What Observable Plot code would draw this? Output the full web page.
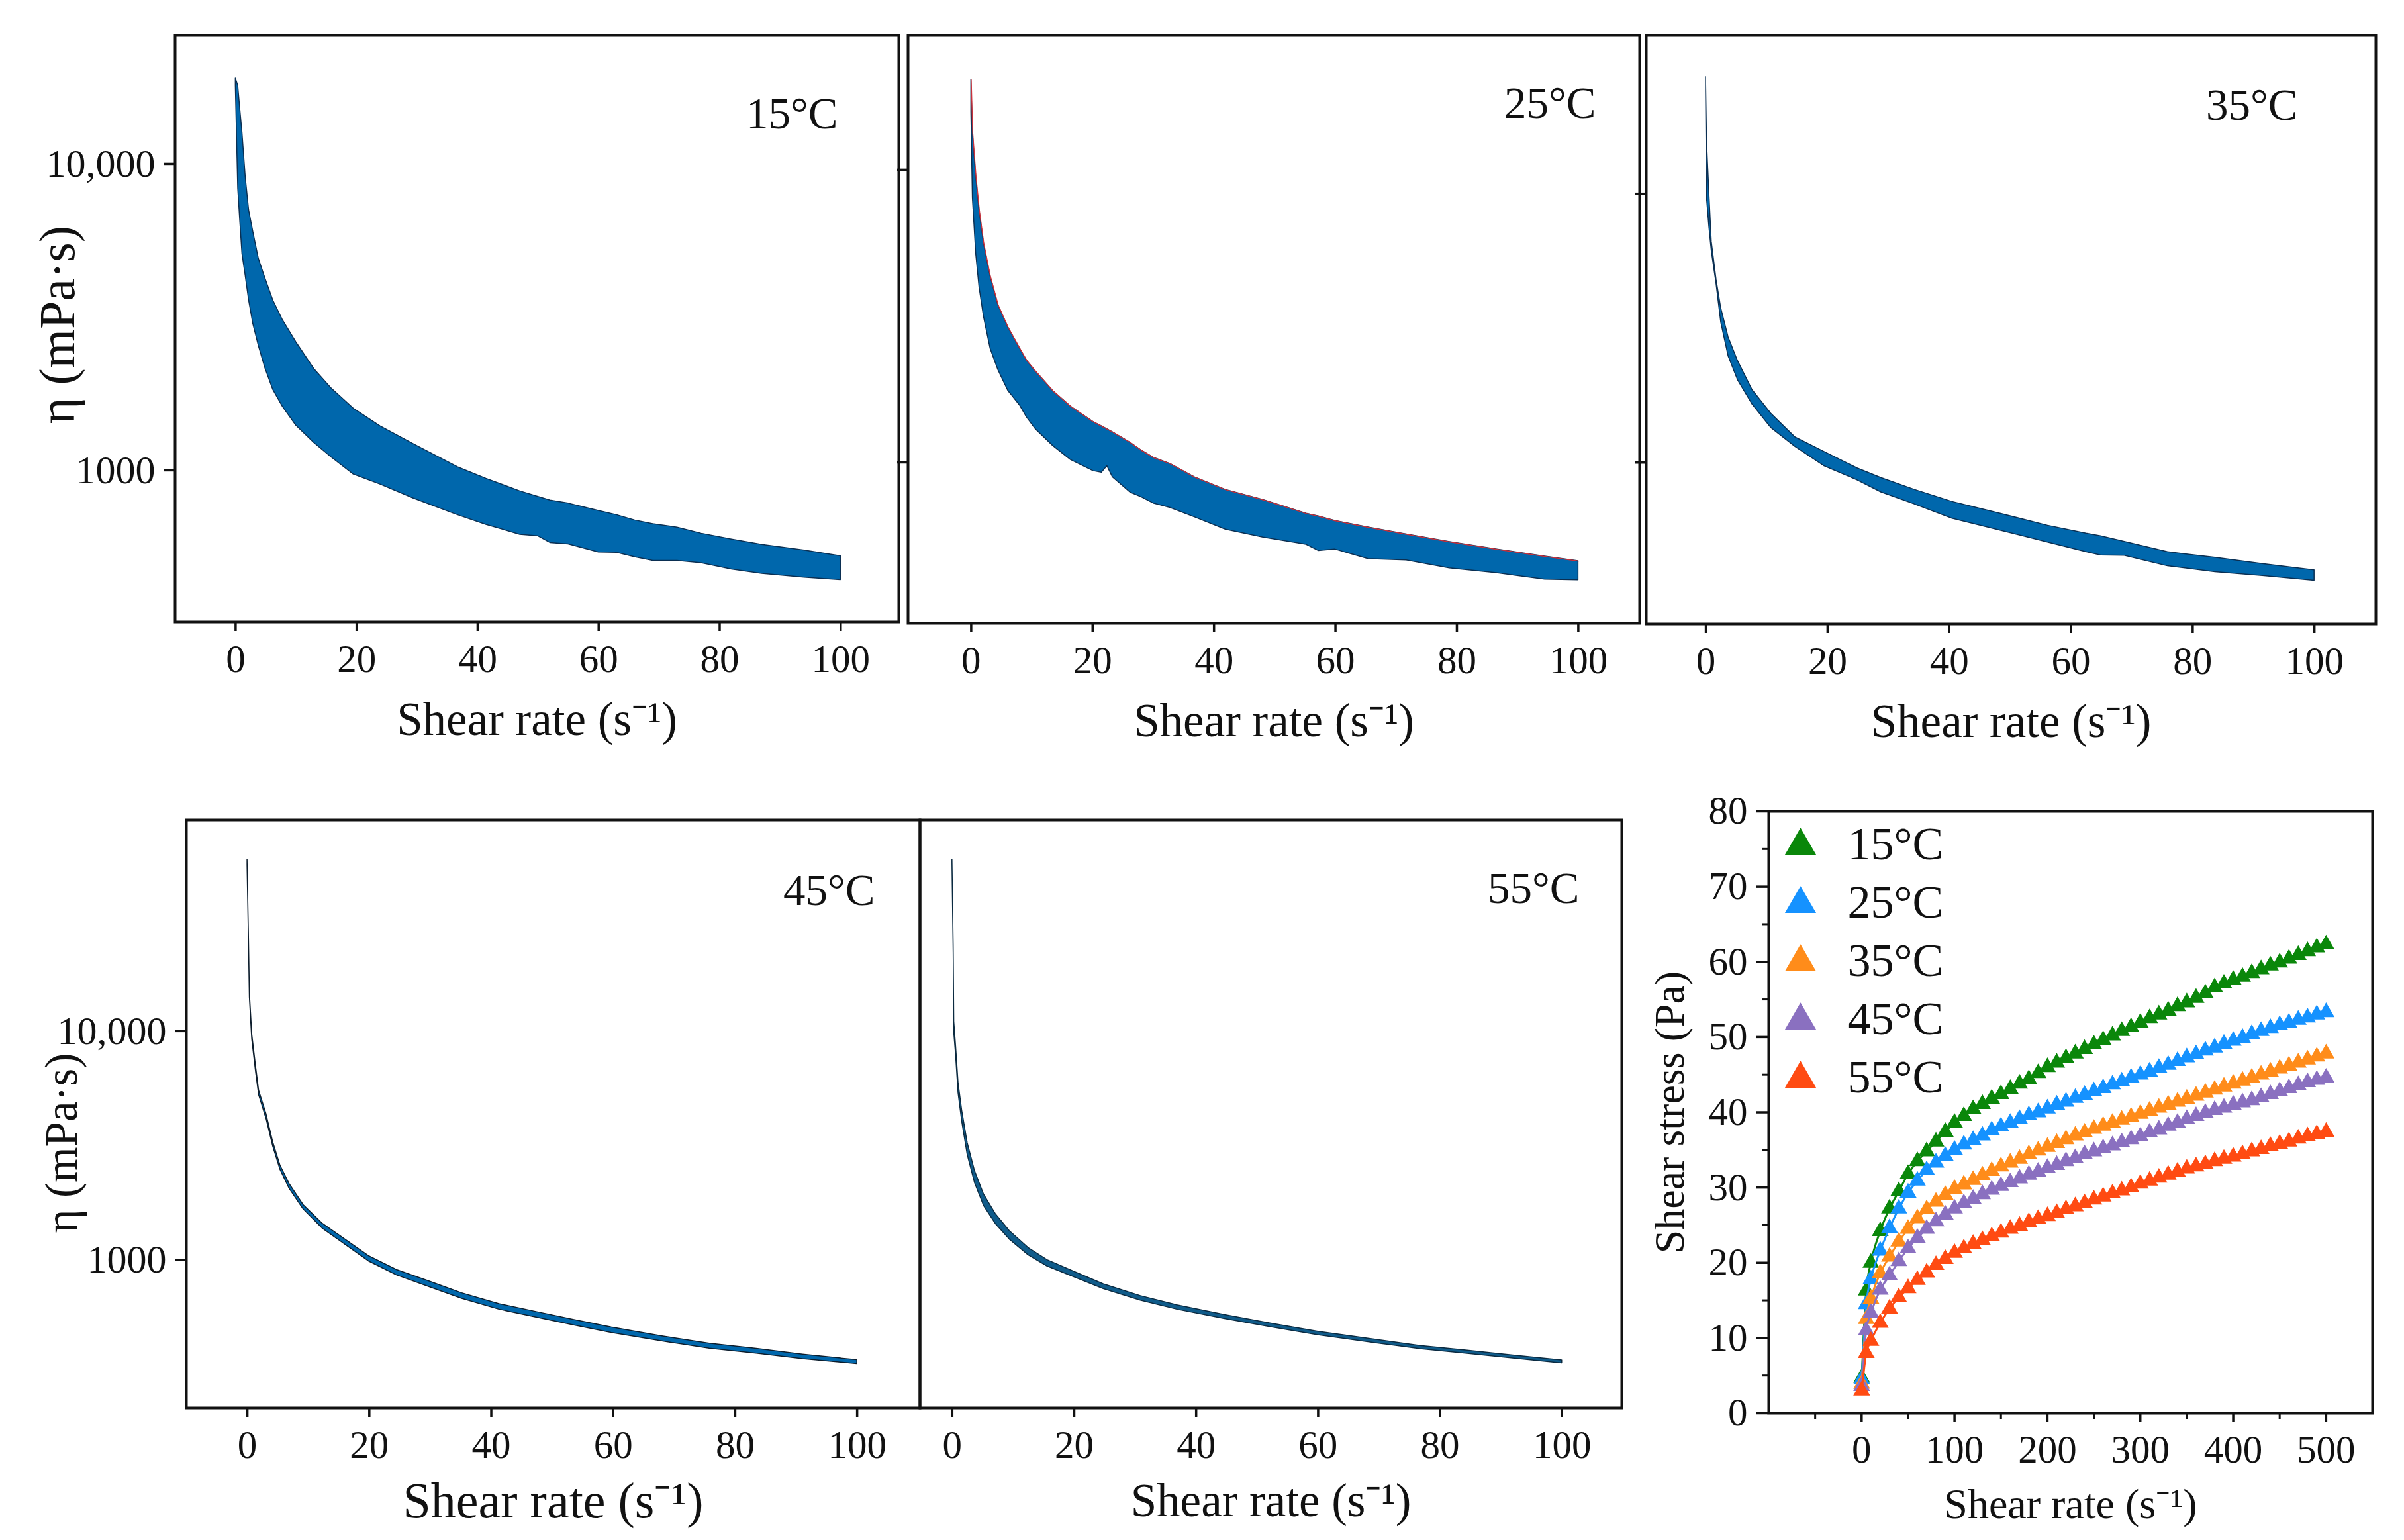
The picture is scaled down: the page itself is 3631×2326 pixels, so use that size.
<!DOCTYPE html>
<html>
<head>
<meta charset="utf-8">
<script src="https://cdn.jsdelivr.net/npm/d3@7"></script>
<script src="https://cdn.jsdelivr.net/npm/@observablehq/plot@0.6"></script>
<style>
  body { margin: 0; background: #fff; }
  #page { position: relative; width: 3631px; height: 2326px; overflow: hidden; background: #fff; }
  #page > div { position: absolute; }
</style>
</head>
<body>
<div id="page"></div>
<script>
// viscosity bands: shear rate (1/s), upper and lower edge of the band (mPa·s)
const rate15 = [0, 0.4, 0.75, 1.1, 1.64, 2.2, 2.9, 3.8, 4.9, 6.2, 7.8, 10, 12.95, 15.9, 19.5, 23.9, 29.4, 36.7, 41.4, 47, 50, 52, 55, 60, 63, 66, 69, 73, 77, 82, 87, 94, 100];
const etaHigh15 = [19000, 18000, 15000, 12640, 9050, 7060, 5995, 4910, 4230, 3584, 3088, 2620, 2145, 1846, 1591, 1394, 1219, 1025, 940, 855, 820, 798, 780, 738, 715, 687, 668, 651, 622, 595, 572, 548, 525];
const etaLow15 = [18000, 8300, 6450, 5080, 4300, 3580, 3000, 2550, 2150, 1830, 1610, 1400, 1230, 1100, 970, 900, 810, 715, 665, 617, 610, 580, 574, 540, 539, 521, 507, 507, 498, 475, 460, 447, 439];

const rate25 = [0, 0.25, 0.8, 1.34, 2.07, 3.16, 4.44, 6.07, 8.07, 9.16, 10.6, 13.5, 16.4, 20.1, 21.5, 22.4, 23.3, 26.2, 28.1, 30, 32.8, 36.8, 41.9, 48.1, 55.2, 57.2, 59.9, 65.4, 71.7, 78.8, 86.6, 94.5, 100];
const etaHigh25 = [20300, 13390, 9460, 7290, 5620, 4330, 3455, 2900, 2442, 2230, 2052, 1754, 1554, 1377, 1330, 1300, 1270, 1170, 1098, 1040, 989, 891, 807, 745, 669, 655, 632, 600, 568, 535, 505, 477, 460];
const etaLow25 = [15700, 8000, 5150, 3970, 3150, 2450, 2070, 1760, 1560, 1426, 1300, 1138, 1020, 935, 923, 972, 891, 790, 760, 725, 700, 650, 590, 554, 524, 499, 505, 468, 463, 435, 419, 398, 396];

const rate35 = [0, 0.16, 0.55, 0.94, 1.73, 2.5, 3.7, 5.25, 7.6, 10.7, 14.7, 19.4, 24.9, 28.8, 34.3, 40.5, 48.4, 56.2, 62.5, 64.9, 68.8, 75.9, 83.7, 91.5, 100];
const etaHigh35 = [27200, 15700, 10000, 6640, 4785, 3747, 2930, 2389, 1869, 1524, 1242, 1099, 953, 878, 793, 715, 646, 583, 545, 533, 508, 465, 443, 420, 398];
const etaLow35 = [24000, 9600, 7500, 6120, 4605, 3315, 2489, 2028, 1652, 1348, 1145, 972, 860, 776, 700, 619, 559, 505, 465, 452, 451, 412, 392, 379, 364];

const rate45 = [0, 0.23, 0.38, 0.77, 1.4, 1.9, 3.1, 4.2, 5.4, 6.9, 9.2, 12.3, 16.1, 19.9, 24.5, 29.9, 35.2, 41.3, 47.5, 53.6, 59.7, 68.2, 75.8, 83.5, 91.1, 100];
const etaHigh45 = [56000, 26000, 14800, 9700, 7000, 5500, 4350, 3280, 2590, 2150, 1740, 1445, 1228, 1042, 906, 806, 717, 643, 593, 548, 508, 464, 432, 410, 387, 366];
const etaLow45 = [53000, 24600, 14000, 9200, 6620, 5250, 4150, 3140, 2480, 2050, 1665, 1375, 1165, 988, 858, 762, 678, 608, 561, 519, 481, 441, 411, 391, 370, 352];

const rate55 = [0, 0.2, 0.3, 0.6, 1.0, 1.6, 2.5, 3.7, 5.2, 7.1, 9.4, 12.5, 15.6, 20.2, 24.8, 30.9, 37.0, 44.7, 52.3, 60.0, 69.2, 76.8, 84.5, 92.2, 100];
const etaHigh55 = [56000, 24000, 11000, 8600, 5950, 4500, 3250, 2450, 1930, 1590, 1340, 1130, 1000, 885, 785, 697, 634, 576, 528, 487, 450, 422, 403, 383, 365];
const etaLow55 = [54000, 22000, 9800, 7800, 5350, 4020, 2880, 2170, 1720, 1440, 1230, 1050, 938, 838, 748, 666, 607, 553, 509, 470, 435, 409, 390, 372, 354];

const temps = ["15°C", "25°C", "35°C", "45°C", "55°C"];
const etaTicks = [1000, 10000];
const etaTickLabels = ["1000", "10,000"];
const rateTicks = [0, 20, 40, 60, 80, 100];

// flow curves: shear stress (Pa) against shear rate (1/s)
const shearRate = [0.1, 5, 10, 20, 30, 40, 50, 60, 70, 80, 90, 100, 110, 120, 130, 140, 150, 160, 170, 180, 190, 200, 210, 220, 230, 240, 250, 260, 270, 280, 290, 300, 310, 320, 330, 340, 350, 360, 370, 380, 390, 400, 410, 420, 430, 440, 450, 460, 470, 480, 490, 500];
const stress15 = [4.7, 16.3, 20.0, 24.2, 27.2, 29.5, 31.8, 33.5, 34.8, 36.1, 37.4, 38.6, 39.5, 40.4, 41.1, 41.8, 42.4, 43.1, 43.8, 44.4, 45.2, 46.0, 46.6, 47.2, 47.8, 48.4, 49.0, 49.6, 50.2, 50.8, 51.3, 51.9, 52.5, 53.0, 53.5, 54.1, 54.6, 55.2, 55.8, 56.6, 57.1, 57.6, 58.0, 58.5, 59.0, 59.5, 59.9, 60.4, 60.9, 61.4, 61.9, 62.3];
const stress25 = [4.5, 14.5, 17.8, 21.6, 24.6, 27.2, 29.3, 30.9, 32.3, 33.3, 34.2, 35.0, 35.7, 36.3, 36.9, 37.6, 38.1, 38.6, 39.1, 39.6, 40.0, 40.5, 41.0, 41.4, 41.9, 42.3, 42.8, 43.2, 43.7, 44.1, 44.6, 45.0, 45.4, 45.9, 46.3, 46.8, 47.3, 47.7, 48.2, 48.6, 49.1, 49.5, 49.9, 50.4, 50.8, 51.2, 51.6, 51.9, 52.3, 52.6, 53.0, 53.3];
const stress35 = [3.9, 12.5, 15.2, 18.6, 20.8, 22.8, 24.5, 25.9, 27.1, 28.1, 29.0, 29.8, 30.4, 31.0, 31.6, 32.2, 32.8, 33.3, 33.8, 34.4, 34.9, 35.4, 35.9, 36.4, 36.9, 37.3, 37.8, 38.2, 38.6, 39.0, 39.4, 39.8, 40.2, 40.6, 41.0, 41.4, 41.8, 42.2, 42.6, 43.0, 43.4, 43.8, 44.2, 44.6, 45.0, 45.4, 45.8, 46.2, 46.6, 47.0, 47.4, 47.8];
const stress45 = [3.6, 11.0, 13.3, 16.4, 18.3, 20.2, 21.9, 23.3, 24.5, 25.5, 26.4, 27.2, 27.9, 28.5, 29.1, 29.7, 30.2, 30.7, 31.2, 31.7, 32.1, 32.6, 33.0, 33.5, 33.9, 34.4, 34.8, 35.2, 35.6, 36.0, 36.4, 36.8, 37.3, 37.7, 38.2, 38.6, 39.1, 39.5, 39.9, 40.3, 40.6, 41.0, 41.3, 41.6, 42.0, 42.4, 42.8, 43.2, 43.6, 44.0, 44.3, 44.6];
const stress55 = [3.0, 8.0, 9.6, 12.0, 13.9, 15.4, 16.6, 17.7, 18.7, 19.7, 20.5, 21.3, 21.9, 22.5, 23.0, 23.5, 24.0, 24.5, 24.9, 25.4, 25.8, 26.2, 26.6, 27.1, 27.5, 27.9, 28.4, 28.8, 29.2, 29.6, 30.0, 30.5, 30.9, 31.3, 31.7, 32.1, 32.5, 32.8, 33.1, 33.5, 33.8, 34.1, 34.4, 34.8, 35.1, 35.5, 35.8, 36.1, 36.5, 36.8, 37.1, 37.4];
const stressSeries = [stress15, stress25, stress35, stress45, stress55];
const seriesColors = ["#0a870a", "#1592ff", "#ff8c1a", "#8a70c0", "#ff4b12"];
const stressTicks = [0, 10, 20, 30, 40, 50, 60, 70, 80];
const stressMinorTicks = [5, 15, 25, 35, 45, 55, 65, 75];
const flowRateTicks = [0, 100, 200, 300, 400, 500];
const flowRateMinorTicks = [-50, 50, 150, 250, 350, 450];

const serif = "'Liberation Serif', 'Times New Roman', serif";
const page = document.getElementById("page");

function place(chart, left, top) {
  const holder = document.createElement("div");
  holder.style.left = left + "px";
  holder.style.top = top + "px";
  holder.append(chart);
  page.append(holder);
}

const chartStyle = {fontFamily: serif, background: "transparent", color: "#111", overflow: "visible"};

// one viscosity panel; box = frame position on the page [left, top, right, bottom]
function viscPanel(o) {
  const m = {left: 240, right: 30, top: 20, bottom: 220};
  const w = o.box[2] - o.box[0];
  const h = o.box[3] - o.box[1];
  const rows = o.rate.map((r, i) => ({rate: r, high: o.high[i], low: o.low[i]}));

  const marks = [
    Plot.areaY(rows, {x: "rate", y1: "low", y2: "high", fill: o.fill, stroke: o.edge, strokeWidth: 1.5})
  ];
  if (o.topLine) marks.push(Plot.line(rows, {x: "rate", y: "high", stroke: o.topLine, strokeWidth: 1.5}));
  marks.push(
    Plot.frame({stroke: "#111", strokeWidth: 4}),
    Plot.axisX({ticks: rateTicks, tickSize: 14, tickPadding: 20, fontSize: 59, strokeWidth: 3.5, label: null}),
    Plot.text([o.temp], {text: d => d, frameAnchor: "top-right", dx: -o.tempAt[0], dy: o.tempAt[1],
      textAnchor: "end", lineAnchor: "middle", fontSize: 67}),
    Plot.text(["Shear rate (s⁻¹)"], {text: d => d, frameAnchor: "bottom", dy: o.titleDy, lineAnchor: "middle", fontSize: o.titleSize})
  );
  if (o.yTicks) {
    marks.push(Plot.axisY({
      ticks: etaTicks,
      tickFormat: o.yLabels ? (d => etaTickLabels[etaTicks.indexOf(d)]) : () => "",
      tickSize: 16, tickPadding: 14, fontSize: 60, strokeWidth: 3.5, label: null
    }));
  }
  if (o.yLabels) {
    marks.push(Plot.text(["η (mPa·s)"], {text: d => d, frameAnchor: "left", rotate: -90, dx: -o.titleAt[0], dy: o.titleAt[1],
      textAnchor: "middle", lineAnchor: "middle", fontSize: o.titleAt[2]}));
  }

  const chart = Plot.plot({
    width: w + m.left + m.right,
    height: h + m.top + m.bottom,
    marginLeft: m.left, marginRight: m.right, marginTop: m.top, marginBottom: m.bottom,
    style: chartStyle,
    x: {domain: o.xDomain},
    y: {type: "log", domain: o.yDomain, axis: o.yTicks ? undefined : null},
    marks
  });
  place(chart, o.box[0] - m.left, o.box[1] - m.top);
}

viscPanel({box: [264, 53, 1357, 939], rate: rate15, high: etaHigh15, low: etaLow15, temp: temps[0],
  xDomain: [-10, 109.6], yDomain: [320, 26240], yTicks: true, yLabels: true,
  fill: "#0067ac", edge: "#0b2f52", tempAt: [92, 119], titleAt: [177, -6, 76], titleDy: 148, titleSize: 71});
viscPanel({box: [1371, 53, 2476, 941], rate: rate25, high: etaHigh25, low: etaLow25, temp: temps[1],
  xDomain: [-10.4, 110.1], yDomain: [282, 28770], yTicks: true, yLabels: false,
  fill: "#0067ac", edge: "#0b2f52", topLine: "#c8323c", tempAt: [66, 103], titleDy: 148, titleSize: 71});
viscPanel({box: [2486, 53, 3588, 942], rate: rate35, high: etaHigh35, low: etaLow35, temp: temps[2],
  xDomain: [-9.8, 110.1], yDomain: [251, 38820], yTicks: true, yLabels: false,
  fill: "#0067ac", edge: "#0b2f52", tempAt: [118, 106], titleDy: 148, titleSize: 71});
viscPanel({box: [281, 1238, 1389, 2126], rate: rate45, high: etaHigh45, low: etaLow45, temp: temps[3],
  xDomain: [-10, 110.3], yDomain: [226, 83560], yTicks: true, yLabels: true,
  fill: "#0067ac", edge: "#0d1d2c", tempAt: [68, 107], titleAt: [188, 44, 69], titleDy: 141, titleSize: 76});
viscPanel({box: [1389, 1238, 2449, 2126], rate: rate55, high: etaHigh55, low: etaLow55, temp: temps[4],
  xDomain: [-5.3, 109.8], yDomain: [226, 83560], yTicks: false, yLabels: false,
  fill: "#0f5b8a", edge: "#0b2a40", tempAt: [64, 104], titleDy: 141, titleSize: 71});

// flow curve panel
{
  const box = [2671, 1225, 3583, 2134];
  const m = {left: 200, right: 30, top: 30, bottom: 200};
  const marks = [];
  stressSeries.forEach((s, k) => {
    const rows = shearRate.map((r, i) => ({rate: r, stress: s[i]}));
    marks.push(
      Plot.line(rows, {x: "rate", y: "stress", stroke: seriesColors[k], strokeWidth: 3, curve: "monotone-x"}),
      Plot.dot(rows, {x: "rate", y: "stress", symbol: "triangle", r: 9.5, fill: seriesColors[k], stroke: "none"})
    );
  });
  temps.forEach((t, k) => {
    marks.push(
      Plot.dot([t], {frameAnchor: "top-left", dx: 48, dy: 52 + k * 88, symbol: "triangle", r: 17.5, fill: seriesColors[k], stroke: "none"}),
      Plot.text([t], {text: d => d, frameAnchor: "top-left", dx: 119, dy: 50 + k * 88, textAnchor: "start", lineAnchor: "middle", fontSize: 70})
    );
  });
  marks.push(
    Plot.frame({stroke: "#111", strokeWidth: 4}),
    Plot.axisY({ticks: stressTicks, tickSize: 18, tickPadding: 14, fontSize: 59, strokeWidth: 3.5, label: null}),
    Plot.axisY({ticks: stressMinorTicks, tickSize: 10, tickFormat: () => "", strokeWidth: 3, label: null}),
    Plot.axisX({ticks: flowRateTicks, tickSize: 14, tickPadding: 19, fontSize: 59, strokeWidth: 3.5, label: null}),
    Plot.axisX({ticks: flowRateMinorTicks, tickSize: 9, tickFormat: () => "", strokeWidth: 3, label: null}),
    Plot.text(["Shear stress (Pa)"], {text: d => d, frameAnchor: "left", rotate: -90, dx: -149,
      textAnchor: "middle", lineAnchor: "middle", fontSize: 64}),
    Plot.text(["Shear rate (s⁻¹)"], {text: d => d, frameAnchor: "bottom", dy: 138, lineAnchor: "middle", fontSize: 64})
  );
  const chart = Plot.plot({
    width: box[2] - box[0] + m.left + m.right,
    height: box[3] - box[1] + m.top + m.bottom,
    marginLeft: m.left, marginRight: m.right, marginTop: m.top, marginBottom: m.bottom,
    style: chartStyle,
    x: {domain: [-100, 550]},
    y: {domain: [0, 80]},
    marks
  });
  place(chart, box[0] - m.left, box[1] - m.top);
}
</script>
</body>
</html>
